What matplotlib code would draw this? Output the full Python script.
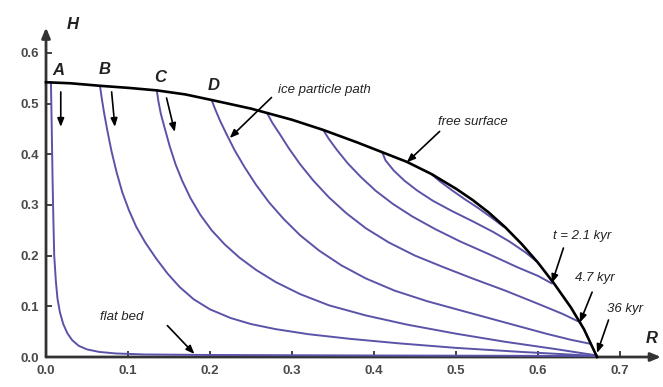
import matplotlib.pyplot as plt

plt.rcParams['font.family'] = ['Liberation Sans', 'DejaVu Sans']

# free surface (R, H)
surf_r = [0.0, 0.03, 0.066, 0.10, 0.135, 0.17, 0.202, 0.25, 0.30, 0.338, 0.38, 0.41,
          0.44, 0.47, 0.50, 0.52, 0.54, 0.56, 0.58, 0.60, 0.62, 0.64, 0.656, 0.672]
surf_h = [0.542, 0.540, 0.535, 0.531, 0.526, 0.518, 0.507, 0.490, 0.468, 0.448, 0.423, 0.404,
          0.385, 0.361, 0.332, 0.310, 0.285, 0.256, 0.223, 0.186, 0.144, 0.098, 0.055, 0.0]

# ice particle paths
path_a_r = [0.006, 0.007, 0.008, 0.009, 0.010, 0.012, 0.014, 0.017, 0.021, 0.026, 0.032, 0.04,
            0.05, 0.065, 0.085, 0.12, 0.2, 0.4, 0.672]
path_a_h = [0.542, 0.45, 0.35, 0.27, 0.2, 0.15, 0.115, 0.088, 0.065, 0.047, 0.033, 0.022,
            0.015, 0.01, 0.007, 0.005, 0.004, 0.003, 0.002]

path_b_r = [0.066, 0.068, 0.071, 0.075, 0.080, 0.086, 0.093, 0.101, 0.110, 0.121, 0.134, 0.148,
            0.163, 0.18, 0.2, 0.225, 0.25, 0.28, 0.32, 0.37, 0.43, 0.5, 0.58, 0.672]
path_b_h = [0.533, 0.51, 0.48, 0.445, 0.405, 0.365, 0.325, 0.29, 0.257, 0.226, 0.195, 0.165,
            0.138, 0.114, 0.094, 0.077, 0.065, 0.055, 0.045, 0.036, 0.027, 0.018, 0.01, 0.002]

path_c_r = [0.135, 0.137, 0.140, 0.145, 0.151, 0.158, 0.166, 0.176, 0.188, 0.202, 0.218, 0.236,
            0.256, 0.28, 0.31, 0.345, 0.39, 0.44, 0.5, 0.56, 0.62, 0.672]
path_c_h = [0.527, 0.505, 0.48, 0.45, 0.415, 0.38, 0.348, 0.314, 0.281, 0.25, 0.222, 0.196,
            0.172, 0.148, 0.124, 0.102, 0.082, 0.064, 0.046, 0.03, 0.016, 0.003]

path_d_r = [0.202, 0.206, 0.212, 0.22, 0.23, 0.242, 0.256, 0.272, 0.29, 0.31, 0.333, 0.36,
            0.39, 0.425, 0.465, 0.51, 0.56, 0.61, 0.64, 0.664]
path_d_h = [0.507, 0.49, 0.467, 0.44, 0.408, 0.375, 0.34, 0.305, 0.272, 0.24, 0.21, 0.181,
            0.155, 0.131, 0.11, 0.09, 0.068, 0.046, 0.034, 0.026]

path_e_r = [0.27, 0.276, 0.285, 0.296, 0.31, 0.326, 0.345, 0.366, 0.39, 0.418, 0.45, 0.485,
            0.52, 0.56, 0.6, 0.63, 0.652]
path_e_h = [0.480, 0.462, 0.44, 0.412, 0.38, 0.348, 0.315, 0.284, 0.254, 0.226, 0.2, 0.177,
            0.155, 0.131, 0.105, 0.085, 0.068]

path_f_r = [0.338, 0.345, 0.355, 0.368, 0.384, 0.402, 0.423, 0.447, 0.475, 0.505, 0.54, 0.575,
            0.6, 0.617]
path_f_h = [0.448, 0.43, 0.408, 0.382, 0.355, 0.328, 0.302, 0.277, 0.252, 0.228, 0.203, 0.177,
            0.16, 0.145]

path_g_r = [0.41, 0.414, 0.424, 0.437, 0.453, 0.472, 0.495, 0.52, 0.545, 0.565, 0.585, 0.598]
path_g_h = [0.404, 0.388, 0.368, 0.348, 0.328, 0.308, 0.288, 0.268, 0.247, 0.228, 0.206, 0.189]

path_h_r = [0.47, 0.48, 0.495, 0.51, 0.527, 0.545, 0.558]
path_h_h = [0.361, 0.347, 0.329, 0.312, 0.294, 0.273, 0.257]

paths = [(path_a_r, path_a_h), (path_b_r, path_b_h), (path_c_r, path_c_h), (path_d_r, path_d_h),
         (path_e_r, path_e_h), (path_f_r, path_f_h), (path_g_r, path_g_h), (path_h_r, path_h_h)]

ticks_r = [0.0, 0.1, 0.2, 0.3, 0.4, 0.5, 0.6, 0.7]
ticks_h = [0.0, 0.1, 0.2, 0.3, 0.4, 0.5, 0.6]

blue = '#5a53a8'
dark = '#222222'

fig = plt.figure(figsize=(6.63, 3.87), dpi=100)
ax = fig.add_axes([0.0694, 0.0775, 0.9276, 0.8514])
ax.set_xlim(0, 0.75)
ax.set_ylim(0, 0.65)

for r, h in paths:
    ax.plot(r, h, color=blue, lw=1.4, solid_capstyle='round', solid_joinstyle='round',
            clip_on=False, zorder=2)
ax.plot(surf_r, surf_h, color='black', lw=1.9, solid_joinstyle='round', zorder=3, clip_on=False)

for s in ax.spines.values():
    s.set_visible(False)

# axes with arrow heads
ax.annotate('', xy=(1.0, 0), xytext=(0, 0), xycoords='axes fraction',
            arrowprops=dict(arrowstyle='-|>,head_length=0.6,head_width=0.25', lw=2, color='#333333',
                            shrinkA=0, shrinkB=0), zorder=1)
ax.annotate('', xy=(0, 1.0), xytext=(0, 0), xycoords='axes fraction',
            arrowprops=dict(arrowstyle='-|>,head_length=0.6,head_width=0.25', lw=2, color='#333333',
                            shrinkA=0, shrinkB=0), zorder=1)

ax.set_xticks(ticks_r)
ax.set_yticks(ticks_h)
ax.set_xticklabels([f'{v:.1f}' for v in ticks_r], fontweight='bold')
ax.set_yticklabels([f'{v:.1f}' for v in ticks_h], fontweight='bold')
ax.tick_params(direction='in', length=4, width=1.3, color='#333333', labelsize=9.5,
               labelcolor='#4a4a4a')
ax.tick_params(axis='x', pad=6)
ax.tick_params(axis='y', pad=5)

ax.text(0.025, 0.655, 'H', fontsize=12, style='italic', fontweight='bold', color=dark,
        ha='left', va='center')
ax.text(0.739, 0.037, 'R', fontsize=12, style='italic', fontweight='bold', color=dark,
        ha='center', va='center', clip_on=False)

for lab, x, y in [('A', 0.015, 0.566), ('B', 0.072, 0.568), ('C', 0.139, 0.552), ('D', 0.204, 0.536)]:
    ax.text(x, y, lab, fontsize=12, style='italic', fontweight='bold', color=dark,
            ha='center', va='center')

arrow_kw = dict(arrowstyle='-|>,head_length=0.5,head_width=0.2', lw=1.2, color='black',
                shrinkA=0, shrinkB=0)
ax.annotate('', xy=(0.018, 0.454), xytext=(0.018, 0.523), arrowprops=arrow_kw)
ax.annotate('', xy=(0.084, 0.454), xytext=(0.080, 0.523), arrowprops=arrow_kw)
ax.annotate('', xy=(0.157, 0.444), xytext=(0.147, 0.511), arrowprops=arrow_kw)

ax.annotate('', xy=(0.224, 0.432), xytext=(0.275, 0.512), arrowprops=arrow_kw)
ax.text(0.283, 0.527, 'ice particle path', fontsize=9.5, style='italic', color=dark,
        ha='left', va='center')

ax.annotate('', xy=(0.44, 0.384), xytext=(0.48, 0.445), arrowprops=arrow_kw)
ax.text(0.478, 0.463, 'free surface', fontsize=9.5, style='italic', color=dark,
        ha='left', va='center')

ax.annotate('', xy=(0.617, 0.146), xytext=(0.631, 0.215), arrowprops=arrow_kw)
ax.text(0.618, 0.238, 't = 2.1 kyr', fontsize=9.5, style='italic', color=dark,
        ha='left', va='center')
ax.annotate('', xy=(0.651, 0.068), xytext=(0.666, 0.128), arrowprops=arrow_kw)
ax.text(0.645, 0.155, '4.7 kyr', fontsize=9.5, style='italic', color=dark,
        ha='left', va='center')
ax.annotate('', xy=(0.672, 0.008), xytext=(0.686, 0.073), arrowprops=arrow_kw)
ax.text(0.684, 0.094, '36 kyr', fontsize=9.5, style='italic', color=dark,
        ha='left', va='center', clip_on=False)

ax.annotate('', xy=(0.181, 0.006), xytext=(0.148, 0.062), arrowprops=arrow_kw)
ax.text(0.066, 0.079, 'flat bed', fontsize=9.5, style='italic', color=dark,
        ha='left', va='center')

fig.savefig('out.png', dpi=100)
